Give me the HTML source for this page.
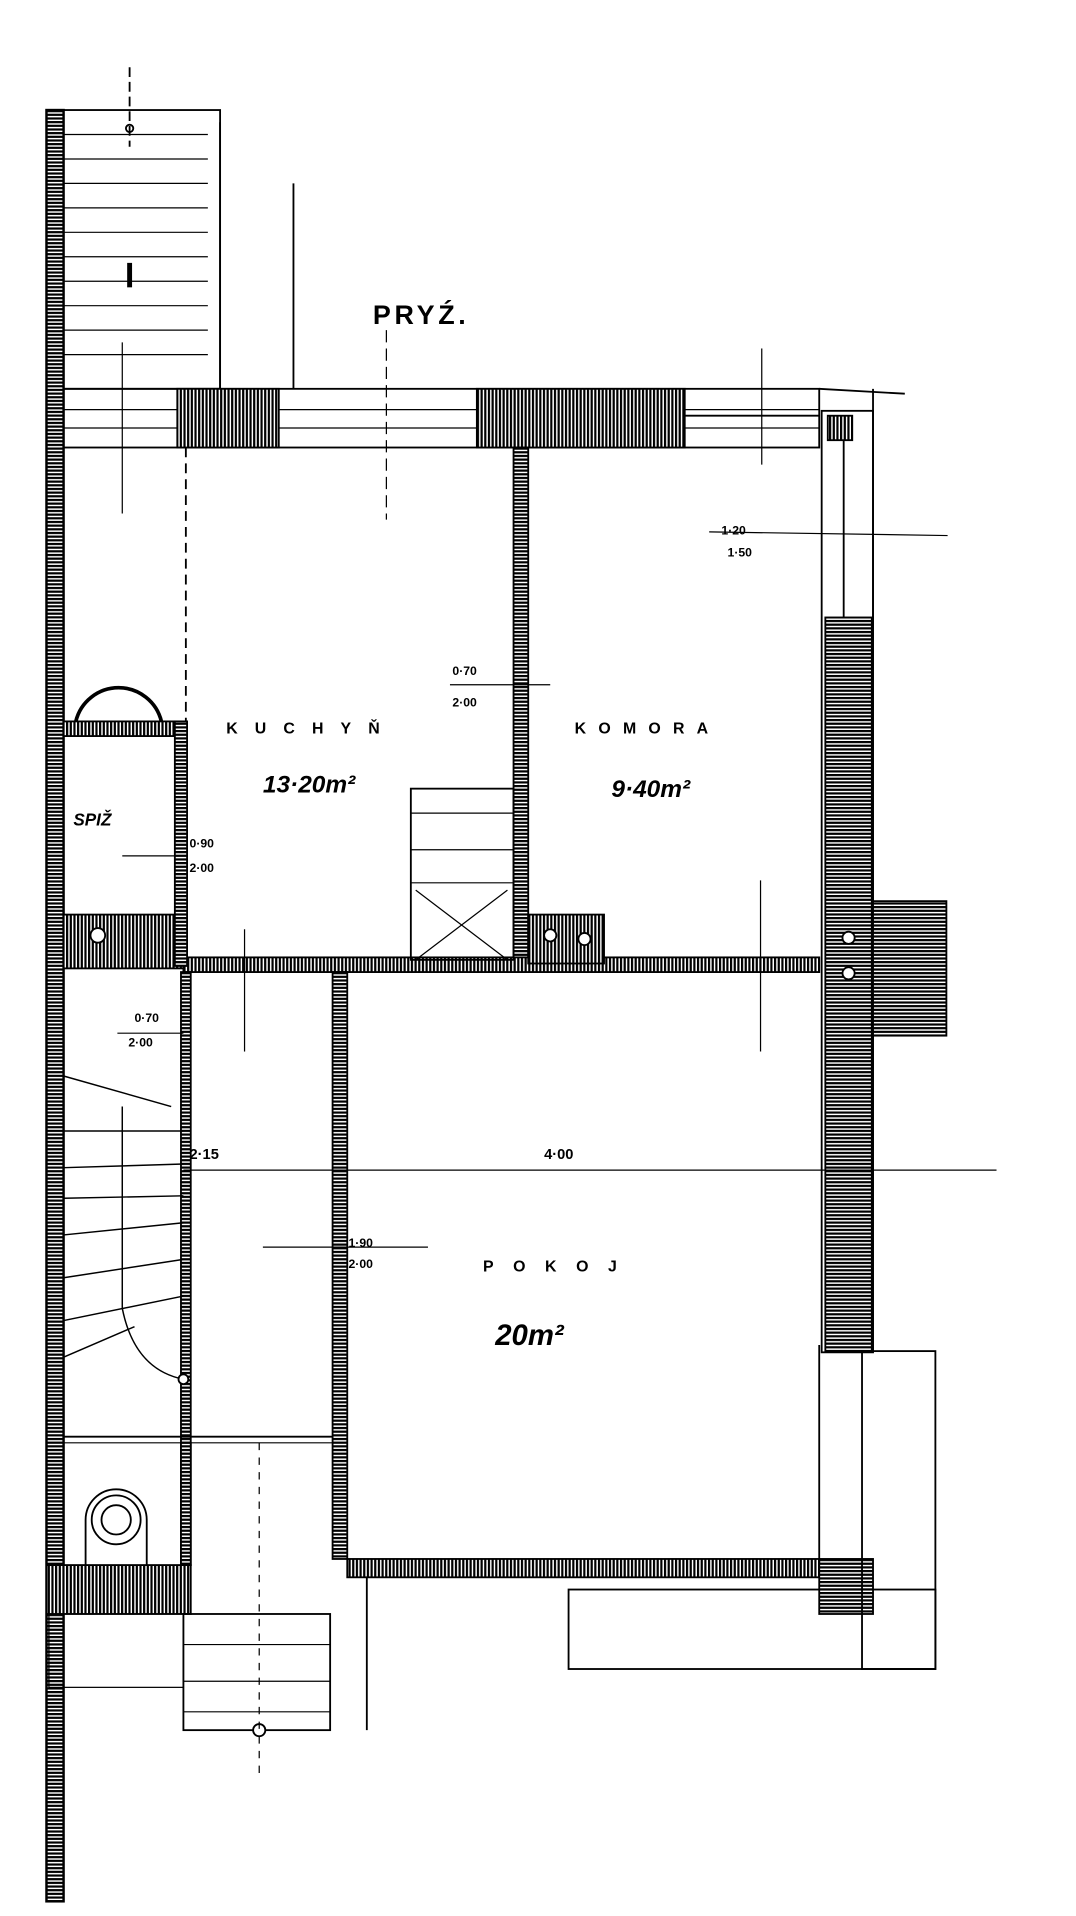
<!DOCTYPE html>
<html><head><style>
html,body{margin:0;padding:0;background:#fff}
svg{display:block}
text{font-family:"Liberation Sans",sans-serif;fill:#000}
</style></head><body>
<svg width="1076" height="1916" viewBox="0 0 880 1567" xmlns="http://www.w3.org/2000/svg">
<defs>
<pattern id="hv" width="3" height="3" patternUnits="userSpaceOnUse"><rect width="3" height="3" fill="#fff"/><rect width="1.8" height="3" fill="#000"/></pattern>
<pattern id="hh" width="3" height="3" patternUnits="userSpaceOnUse"><rect width="3" height="3" fill="#fff"/><rect width="3" height="1.8" fill="#000"/></pattern>
</defs>
<g stroke="#000" fill="none" stroke-width="1.5">
<!-- left wall -->
<rect x="38" y="90" width="14" height="1465" fill="url(#hh)" stroke-width="2"/>
<!-- top stair -->
<rect x="52" y="90" width="128" height="228"/>
<line x1="180" y1="100" x2="180" y2="318"/>
<g stroke-width="1">
<line x1="52" y1="110" x2="170" y2="110"/><line x1="52" y1="130" x2="170" y2="130"/><line x1="52" y1="150" x2="170" y2="150"/><line x1="52" y1="170" x2="170" y2="170"/><line x1="52" y1="190" x2="170" y2="190"/><line x1="52" y1="210" x2="170" y2="210"/><line x1="52" y1="230" x2="170" y2="230"/><line x1="52" y1="250" x2="170" y2="250"/><line x1="52" y1="270" x2="170" y2="270"/><line x1="52" y1="290" x2="170" y2="290"/>
</g>
<line x1="106" y1="55" x2="106" y2="120" stroke-dasharray="8 4"/>
<circle cx="106" cy="105" r="3"/>
<line x1="106" y1="215" x2="106" y2="235" stroke-width="4"/>
<line x1="240" y1="150" x2="240" y2="318"/>
<!-- top wall -->
<rect x="52" y="318" width="618" height="48"/>
<line x1="52" y1="335" x2="670" y2="335" stroke-width="1"/><line x1="52" y1="350" x2="670" y2="350" stroke-width="1"/>
<rect x="145" y="318" width="83" height="48" fill="url(#hv)"/>
<rect x="390" y="318" width="170" height="48" fill="url(#hv)"/>
<line x1="560" y1="340" x2="670" y2="340"/>
<line x1="670" y1="318" x2="740" y2="322"/>
<!-- right wall -->
<rect x="672" y="336" width="42" height="770"/>
<rect x="675" y="505" width="38" height="600" fill="url(#hh)"/>
<rect x="677" y="340" width="20" height="20" fill="url(#hv)"/>
<line x1="690" y1="360" x2="690" y2="505"/>
<line x1="714" y1="318" x2="714" y2="1106"/>
<line x1="580" y1="435" x2="775" y2="438" stroke-width="1"/>
<line x1="623" y1="285" x2="623" y2="380" stroke-width="1"/>
<!-- side bay -->
<rect x="714" y="737" width="60" height="110" fill="url(#hh)"/>
<circle cx="694" cy="767" r="5" fill="#fff"/><circle cx="694" cy="796" r="5" fill="#fff"/>
<!-- kitchen/komora wall -->
<rect x="420" y="366" width="12" height="425" fill="url(#hh)"/>
<!-- middle horizontal wall -->
<rect x="150" y="783" width="520" height="12" fill="url(#hv)"/>
<rect x="52" y="748" width="98" height="44" fill="url(#hv)"/>
<circle cx="80" cy="765" r="6" fill="#fff"/>
<rect x="432" y="748" width="62" height="40" fill="url(#hv)"/>
<circle cx="450" cy="765" r="5" fill="#fff"/><circle cx="478" cy="768" r="5" fill="#fff"/>
<!-- stairs in kitchen -->
<rect x="336" y="645" width="84" height="140"/>
<line x1="336" y1="665" x2="420" y2="665" stroke-width="1"/><line x1="336" y1="695" x2="420" y2="695" stroke-width="1"/><line x1="336" y1="722" x2="420" y2="722" stroke-width="1"/>
<line x1="340" y1="728" x2="415" y2="785" stroke-width="1"/><line x1="415" y1="728" x2="340" y2="785" stroke-width="1"/>
<!-- dashed line kitchen -->
<line x1="152" y1="366" x2="152" y2="590" stroke-dasharray="8 5"/>
<!-- spiz -->
<rect x="52" y="590" width="98" height="12" fill="url(#hv)"/>
<rect x="143" y="590" width="10" height="200" fill="url(#hh)"/>
<path d="M62 590 A36 36 0 0 1 132 590" stroke-width="3"/>
<!-- corridor wall -->
<rect x="148" y="795" width="8" height="485" fill="url(#hh)"/>
<!-- pokoj left wall -->
<rect x="272" y="795" width="12" height="480" fill="url(#hh)"/>
<!-- bottom wall -->
<rect x="284" y="1275" width="386" height="15" fill="url(#hv)"/>
<rect x="670" y="1275" width="44" height="45" fill="url(#hh)"/>
<line x1="670" y1="1100" x2="670" y2="1278"/>
<rect x="705" y="1105" width="60" height="260"/>
<rect x="465" y="1300" width="300" height="65"/>
<line x1="300" y1="1290" x2="300" y2="1415"/>
<!-- big stair curved -->
<g stroke-width="1.2">
<line x1="52" y1="880" x2="140" y2="905"/>
<line x1="52" y1="925" x2="150" y2="925"/><line x1="52" y1="955" x2="150" y2="952"/><line x1="52" y1="980" x2="150" y2="978"/>
<line x1="52" y1="1010" x2="150" y2="1000"/><line x1="52" y1="1045" x2="150" y2="1030"/><line x1="52" y1="1080" x2="150" y2="1060"/><line x1="52" y1="1110" x2="110" y2="1085"/>
<line x1="100" y1="905" x2="100" y2="1070"/>
<path d="M100 1070 Q110 1120 150 1128"/>
</g>
<circle cx="150" cy="1128" r="4" fill="#fff"/>
<!-- lower corridor -->
<line x1="52" y1="1175" x2="272" y2="1175"/>
<line x1="52" y1="1180" x2="272" y2="1180" stroke-width="1"/>
<rect x="148" y="1180" width="8" height="100" fill="url(#hh)"/>
<circle cx="95" cy="1243" r="20"/><circle cx="95" cy="1243" r="12"/>
<path d="M70 1280 L70 1243 A25 25 0 0 1 120 1243 L120 1280"/>
<rect x="38" y="1280" width="118" height="40" fill="url(#hv)"/>
<rect x="40" y="1320" width="110" height="60" stroke-width="1"/>
<!-- lower stair -->
<rect x="150" y="1320" width="120" height="95"/>
<line x1="150" y1="1345" x2="270" y2="1345" stroke-width="1"/><line x1="150" y1="1375" x2="270" y2="1375" stroke-width="1"/><line x1="150" y1="1400" x2="270" y2="1400" stroke-width="1"/>
<circle cx="212" cy="1415" r="5" fill="#fff"/>
<line x1="212" y1="1180" x2="212" y2="1450" stroke-dasharray="6 6" stroke-width="1"/>
<!-- dimension lines -->
<g stroke-width="1">
<line x1="150" y1="957" x2="815" y2="957"/>
<line x1="150" y1="795" x2="670" y2="795"/>
<line x1="316" y1="270" x2="316" y2="425" stroke-dasharray="10 5"/>
<line x1="100" y1="280" x2="100" y2="420"/>
<line x1="215" y1="1020" x2="350" y2="1020"/>
<line x1="100" y1="700" x2="150" y2="700"/>
<line x1="200" y1="760" x2="200" y2="860"/><line x1="622" y1="720" x2="622" y2="860"/>
<line x1="368" y1="560" x2="450" y2="560"/>
<line x1="96" y1="845" x2="150" y2="845"/>
</g>
</g>
<g font-size="13" font-weight="bold">
<text x="305" y="265" font-size="22" letter-spacing="3">PRYŹ.</text>
<text x="185" y="600" letter-spacing="14">KUCHYŇ</text>
<text x="470" y="600" letter-spacing="10">KOMORA</text>
<text x="215" y="648" font-size="20" font-style="italic">13·20m²</text>
<text x="500" y="652" font-size="20" font-style="italic">9·40m²</text>
<text x="60" y="675" font-size="14" font-style="italic">SPIŽ</text>
<text x="395" y="1040" letter-spacing="16">POKOJ</text>
<text x="405" y="1100" font-size="24" font-style="italic">20m²</text>
<text x="155" y="948" font-size="12">2·15</text>
<text x="445" y="948" font-size="12">4·00</text>
<text x="370" y="552" font-size="10">0·70</text><text x="370" y="578" font-size="10">2·00</text>
<text x="110" y="836" font-size="10">0·70</text><text x="105" y="856" font-size="10">2·00</text>
<text x="155" y="693" font-size="10">0·90</text><text x="155" y="713" font-size="10">2·00</text>
<text x="285" y="1020" font-size="10">1·90</text><text x="285" y="1037" font-size="10">2·00</text>
<text x="590" y="437" font-size="10">1·20</text><text x="595" y="455" font-size="10">1·50</text>
</g>
</svg>
</body></html>
